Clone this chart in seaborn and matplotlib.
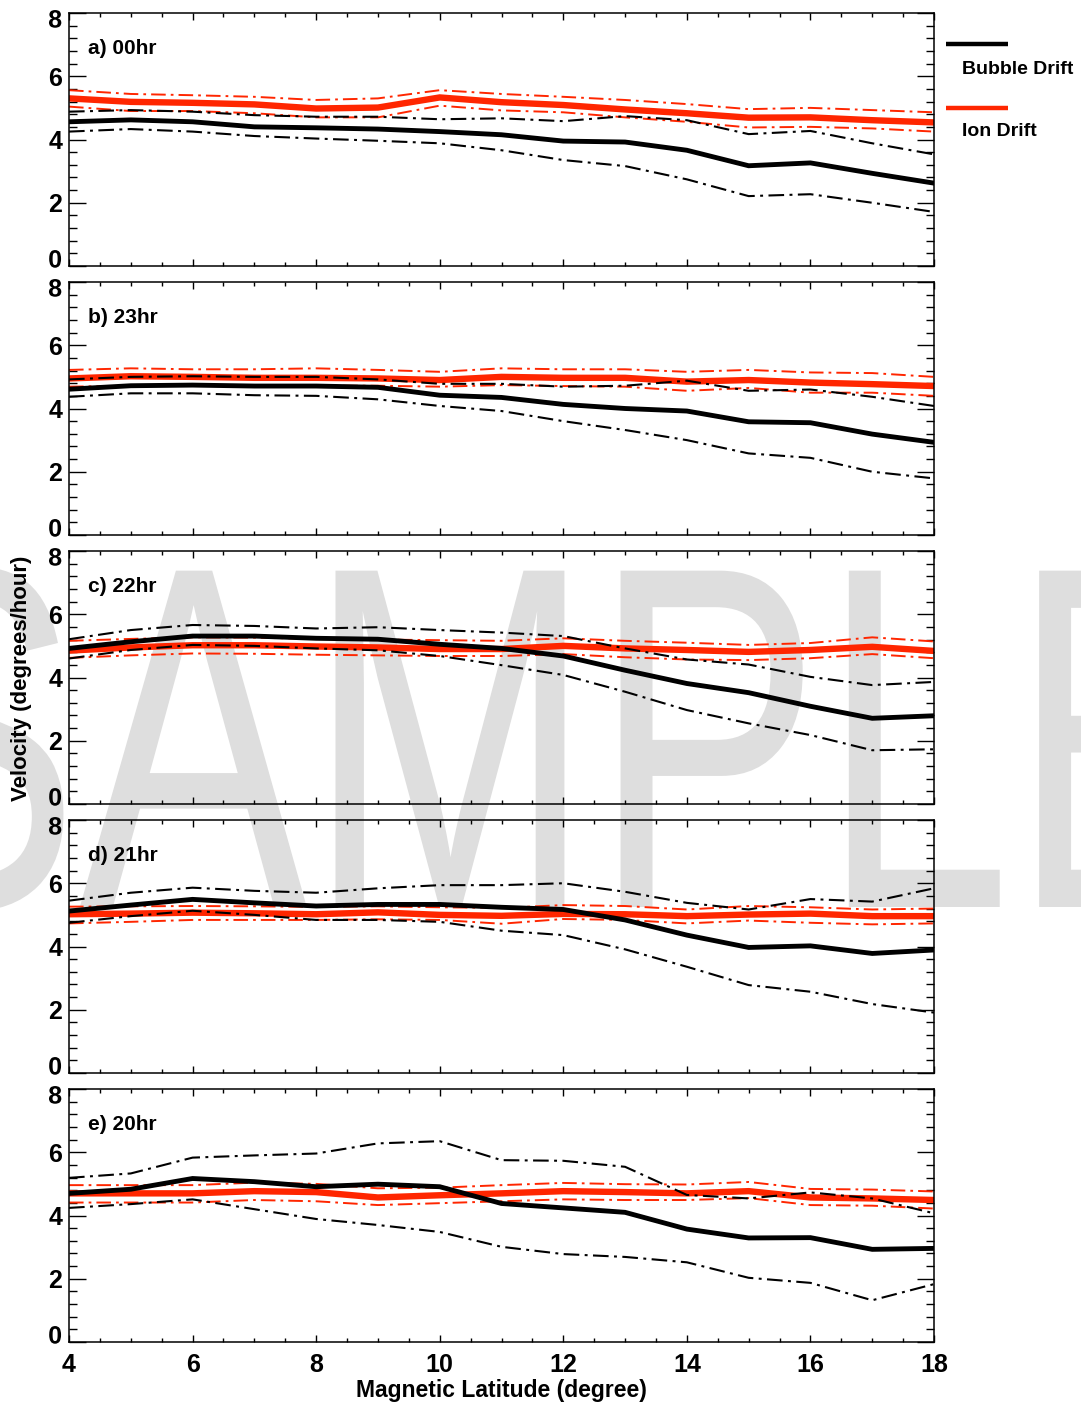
import matplotlib
matplotlib.use("Agg")
import matplotlib.pyplot as plt
import seaborn as sns
import pandas as pd
from matplotlib.ticker import MultipleLocator
from matplotlib.lines import Line2D
from matplotlib import patheffects
from matplotlib.transforms import Affine2D

# ---------------- data ----------------
lat = list(range(4, 19))
panel_labels = ["a) 00hr", "b) 23hr", "c) 22hr", "d) 21hr", "e) 20hr"]

bubble_a    = [4.56, 4.62, 4.56, 4.40, 4.37, 4.33, 4.25, 4.15, 3.95, 3.92, 3.66, 3.17, 3.26, 2.93, 2.62]
bubble_a_hi = [4.88, 4.93, 4.88, 4.77, 4.72, 4.72, 4.64, 4.67, 4.58, 4.74, 4.61, 4.17, 4.27, 3.88, 3.53]
bubble_a_lo = [4.25, 4.33, 4.25, 4.11, 4.03, 3.96, 3.88, 3.66, 3.35, 3.16, 2.74, 2.21, 2.27, 2.00, 1.71]
ion_a       = [5.30, 5.19, 5.16, 5.11, 4.98, 5.01, 5.33, 5.18, 5.09, 4.95, 4.83, 4.69, 4.70, 4.61, 4.54]
ion_a_hi    = [5.56, 5.44, 5.40, 5.35, 5.25, 5.30, 5.56, 5.44, 5.35, 5.25, 5.12, 4.96, 5.00, 4.93, 4.86]
ion_a_lo    = [5.04, 4.90, 4.90, 4.83, 4.70, 4.70, 5.07, 4.92, 4.86, 4.70, 4.56, 4.38, 4.40, 4.35, 4.25]

bubble_b    = [4.61, 4.72, 4.74, 4.71, 4.71, 4.67, 4.42, 4.35, 4.13, 4.00, 3.92, 3.58, 3.55, 3.19, 2.93]
bubble_b_hi = [4.92, 5.00, 5.02, 5.00, 5.00, 4.92, 4.78, 4.78, 4.69, 4.72, 4.88, 4.56, 4.60, 4.37, 4.08]
bubble_b_lo = [4.37, 4.48, 4.48, 4.42, 4.40, 4.29, 4.08, 3.92, 3.60, 3.32, 3.00, 2.58, 2.44, 2.00, 1.79]
ion_b       = [4.95, 5.02, 5.00, 4.97, 4.97, 4.95, 4.90, 5.00, 4.97, 4.97, 4.85, 4.90, 4.82, 4.77, 4.71]
ion_b_hi    = [5.22, 5.27, 5.24, 5.24, 5.27, 5.22, 5.16, 5.27, 5.24, 5.24, 5.16, 5.22, 5.14, 5.12, 5.00]
ion_b_lo    = [4.69, 4.72, 4.72, 4.72, 4.72, 4.72, 4.69, 4.74, 4.71, 4.69, 4.56, 4.65, 4.50, 4.50, 4.40]

bubble_c    = [4.92, 5.13, 5.31, 5.31, 5.24, 5.21, 5.05, 4.92, 4.68, 4.23, 3.81, 3.52, 3.09, 2.71, 2.79]
bubble_c_hi = [5.21, 5.50, 5.66, 5.63, 5.55, 5.59, 5.50, 5.42, 5.31, 4.92, 4.57, 4.41, 4.02, 3.76, 3.86]
bubble_c_lo = [4.60, 4.87, 5.03, 5.00, 4.92, 4.86, 4.68, 4.39, 4.08, 3.55, 2.97, 2.55, 2.18, 1.70, 1.73]
ion_c       = [4.85, 4.95, 5.02, 5.02, 4.98, 4.95, 4.90, 4.90, 5.00, 4.92, 4.87, 4.81, 4.87, 4.97, 4.84]
ion_c_hi    = [5.16, 5.22, 5.27, 5.26, 5.22, 5.20, 5.18, 5.16, 5.24, 5.16, 5.10, 5.03, 5.09, 5.27, 5.14]
ion_c_lo    = [4.62, 4.70, 4.76, 4.75, 4.72, 4.70, 4.68, 4.68, 4.74, 4.64, 4.57, 4.55, 4.61, 4.74, 4.61]

bubble_d    = [5.12, 5.31, 5.49, 5.38, 5.28, 5.33, 5.33, 5.24, 5.17, 4.84, 4.36, 3.97, 4.02, 3.78, 3.89]
bubble_d_hi = [5.45, 5.70, 5.86, 5.76, 5.70, 5.84, 5.94, 5.94, 6.00, 5.73, 5.38, 5.17, 5.50, 5.42, 5.84]
bubble_d_lo = [4.75, 4.96, 5.13, 5.00, 4.84, 4.84, 4.78, 4.50, 4.36, 3.91, 3.36, 2.78, 2.57, 2.18, 1.91]
ion_d       = [5.02, 5.04, 5.07, 5.05, 5.02, 5.08, 5.00, 4.97, 5.03, 5.02, 4.96, 5.01, 5.04, 4.96, 4.96]
ion_d_hi    = [5.26, 5.27, 5.28, 5.27, 5.25, 5.27, 5.24, 5.22, 5.31, 5.28, 5.17, 5.28, 5.24, 5.17, 5.20]
ion_d_lo    = [4.73, 4.78, 4.84, 4.84, 4.84, 4.86, 4.84, 4.72, 4.87, 4.84, 4.73, 4.82, 4.75, 4.70, 4.73]

bubble_e    = [4.70, 4.83, 5.17, 5.07, 4.91, 4.99, 4.91, 4.38, 4.24, 4.10, 3.57, 3.29, 3.30, 2.93, 2.96]
bubble_e_hi = [5.19, 5.33, 5.83, 5.90, 5.96, 6.28, 6.35, 5.75, 5.73, 5.54, 4.65, 4.54, 4.73, 4.54, 4.07]
bubble_e_lo = [4.24, 4.36, 4.51, 4.20, 3.89, 3.70, 3.48, 3.01, 2.78, 2.69, 2.52, 2.03, 1.87, 1.32, 1.83]
ion_e       = [4.70, 4.70, 4.70, 4.77, 4.74, 4.57, 4.64, 4.70, 4.77, 4.74, 4.70, 4.77, 4.57, 4.54, 4.49]
ion_e_hi    = [4.96, 4.96, 4.96, 5.04, 5.00, 4.86, 4.88, 4.96, 5.03, 4.99, 4.98, 5.06, 4.84, 4.82, 4.76]
ion_e_lo    = [4.41, 4.41, 4.41, 4.49, 4.45, 4.33, 4.39, 4.45, 4.51, 4.49, 4.49, 4.55, 4.33, 4.31, 4.22]

xticks = [4, 6, 8, 10, 12, 14, 16, 18]
yticks = [0, 2, 4, 6, 8]
legend_names = ["Bubble Drift", "Ion Drift"]
watermark = "SAMPLE"

panels = [
    (bubble_a, bubble_a_hi, bubble_a_lo, ion_a, ion_a_hi, ion_a_lo),
    (bubble_b, bubble_b_hi, bubble_b_lo, ion_b, ion_b_hi, ion_b_lo),
    (bubble_c, bubble_c_hi, bubble_c_lo, ion_c, ion_c_hi, ion_c_lo),
    (bubble_d, bubble_d_hi, bubble_d_lo, ion_d, ion_d_hi, ion_d_lo),
    (bubble_e, bubble_e_hi, bubble_e_lo, ion_e, ion_e_hi, ion_e_lo),
]


class Squeeze(patheffects.AbstractPathEffect):
    """Horizontally condense a text path about its ink centre, with a pixel offset."""

    def __init__(self, sx=1.0, dx=0.0, dy=0.0):
        super().__init__()
        self.sx, self.dx, self.dy = sx, dx, dy

    def draw_path(self, renderer, gc, tpath, affine, rgbFace=None):
        ext = tpath.get_extents()
        cx = 0.5 * (ext.x0 + ext.x1)
        pre = Affine2D().translate(-cx, 0).scale(self.sx, 1).translate(cx, 0)
        post = Affine2D().translate(self.dx, self.dy)
        renderer.draw_path(gc, tpath, pre + affine + post, rgbFace)


# ---------------- style ----------------
RED = "#ff2600"
BLACK = "#000000"
BOLD = ["Liberation Sans", "DejaVu Sans"]
DASHDOT = (0, (7.5, 2.6, 1.4, 2.6))

W, H = 1081, 1409
fig = plt.figure(figsize=(W / 100, H / 100), dpi=100)
fig.patch.set_facecolor("white")

# watermark (behind everything)
fig.text(545 / W, 1 - 907 / H, watermark, ha="center", va="baseline",
         fontsize=352, color="#dedede", family=BOLD, zorder=-5,
         path_effects=[Squeeze(0.70)])

left = 69 / W
width = (934 - 69) / W
tops = [13, 282, 551, 820, 1089]
ph = 253

for i, (top, vals) in enumerate(zip(tops, panels)):
    ax = fig.add_axes([left, 1 - (top + ph) / H, width, ph / H])
    ax.set_facecolor("none")
    b, bh, bl, io, ih, il = vals
    df = pd.DataFrame({"lat": lat * 6,
                       "v": io + ih + il + b + bh + bl,
                       "s": (["ion"] * 15 + ["ion_hi"] * 15 + ["ion_lo"] * 15 +
                             ["bub"] * 15 + ["bub_hi"] * 15 + ["bub_lo"] * 15)})
    styles = {
        "ion_hi": dict(color=RED, lw=1.4, linestyle=DASHDOT),
        "ion_lo": dict(color=RED, lw=1.4, linestyle=DASHDOT),
        "ion": dict(color=RED, lw=4.6, linestyle="-"),
        "bub_hi": dict(color=BLACK, lw=1.5, linestyle=DASHDOT),
        "bub_lo": dict(color=BLACK, lw=1.5, linestyle=DASHDOT),
        "bub": dict(color=BLACK, lw=3.5, linestyle="-"),
    }
    for s in ["ion_hi", "ion_lo", "ion", "bub_hi", "bub_lo", "bub"]:
        sns.lineplot(data=df[df["s"] == s], x="lat", y="v", ax=ax,
                     estimator=None, errorbar=None, legend=False,
                     solid_joinstyle="miter", **styles[s])
    ax.set_xlim(4, 18)
    ax.set_ylim(0, 8)
    ax.set_xlabel("")
    ax.set_ylabel("")
    ax.xaxis.set_major_locator(MultipleLocator(2))
    ax.xaxis.set_minor_locator(MultipleLocator(0.5))
    ax.set_yticks(yticks)
    ax.yaxis.set_minor_locator(MultipleLocator(0.4))
    ax.tick_params(axis="both", which="both", direction="in", top=True, right=True,
                   width=1.0, color="black")
    ax.tick_params(axis="y", which="major", length=12, pad=5)
    ax.tick_params(axis="y", which="minor", length=6)
    ax.tick_params(axis="x", which="major", length=5, pad=8)
    ax.tick_params(axis="x", which="minor", length=3)
    for sp in ax.spines.values():
        sp.set_linewidth(1.1)
        sp.set_color("black")
    ylabs = ax.set_yticklabels([str(t) for t in yticks], family=BOLD,
                               fontweight="bold", fontsize=18)
    # IDL-style: end labels nudged inside the panel
    ylabs[0].set_path_effects([Squeeze(1.0, 0, 8)])
    ylabs[-1].set_path_effects([Squeeze(1.0, 0, -5)])
    if i == len(tops) - 1:
        ax.set_xticks(xticks)
        ax.set_xticklabels([str(t) for t in xticks], family=BOLD,
                           fontweight="bold", fontsize=18)
    else:
        ax.tick_params(axis="x", labelbottom=False)
    ax.text(0.022, 0.86, panel_labels[i], transform=ax.transAxes, ha="left",
            va="center", family=BOLD, fontweight="bold", fontsize=15)

# axis titles
fig.text(501 / W, 1 - 1391 / H, "Magnetic Latitude (degree)", ha="center", va="center",
         family=BOLD, fontweight="bold", fontsize=16.5)
fig.text(22 / W, 1 - 678 / H, "Velocity (degrees/hour)", ha="center", va="center",
         rotation=90, family=BOLD, fontweight="bold", fontsize=16)

# legend (outside at right)
for name, col, ly, ty in zip(legend_names, [BLACK, RED], [44, 108], [69, 132]):
    fig.add_artist(Line2D([946 / W, 1008 / W], [1 - ly / H, 1 - ly / H],
                          transform=fig.transFigure, color=col, lw=3.2,
                          solid_capstyle="butt"))
    fig.text(962 / W, 1 - ty / H, name, ha="left", va="center", family=BOLD,
             fontweight="bold", fontsize=14)

fig.savefig("out.png", dpi=100, facecolor="white")
